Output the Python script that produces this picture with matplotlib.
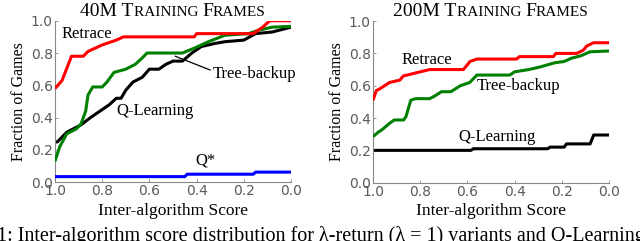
import matplotlib
matplotlib.use("Agg")
import matplotlib.pyplot as plt
from matplotlib.offsetbox import TextArea, HPacker, AnchoredOffsetbox

# ---------------- data ----------------
# Left panel: 40M training frames
l_retrace_x = [1.0, 0.97, 0.93, 0.88, 0.86, 0.83, 0.80, 0.78, 0.74, 0.71, 0.41, 0.40, 0.16, 0.14, 0.12, 0.09, 0.0]
l_retrace_y = [0.58, 0.63, 0.78, 0.78, 0.81, 0.83, 0.85, 0.86, 0.88, 0.90, 0.90, 0.92, 0.92, 0.94, 0.96, 1.00, 1.00]

l_tree_x = [1.0, 0.98, 0.95, 0.91, 0.89, 0.87, 0.86, 0.84, 0.80, 0.78, 0.75, 0.70, 0.66, 0.63, 0.61, 0.46, 0.41, 0.35, 0.28, 0.18, 0.14, 0.08, 0.0]
l_tree_y = [0.13, 0.22, 0.30, 0.33, 0.36, 0.44, 0.54, 0.59, 0.59, 0.62, 0.68, 0.70, 0.73, 0.77, 0.80, 0.80, 0.83, 0.87, 0.91, 0.92, 0.94, 0.96, 0.965]

l_q_x = [1.0, 0.99, 0.95, 0.89, 0.85, 0.81, 0.77, 0.74, 0.72, 0.70, 0.67, 0.63, 0.60, 0.56, 0.53, 0.50, 0.46, 0.42, 0.38, 0.32, 0.28, 0.20, 0.15, 0.08, 0.0]
l_q_y = [0.25, 0.25, 0.31, 0.355, 0.40, 0.44, 0.48, 0.52, 0.52, 0.57, 0.62, 0.65, 0.70, 0.70, 0.73, 0.75, 0.75, 0.80, 0.84, 0.86, 0.87, 0.88, 0.92, 0.93, 0.96]

l_qstar_x = [1.0, 0.45, 0.44, 0.16, 0.15, 0.0]
l_qstar_y = [0.035, 0.035, 0.05, 0.05, 0.063, 0.063]

# Right panel: 200M training frames
r_retrace_x = [1.0, 0.986, 0.972, 0.93, 0.886, 0.872, 0.80, 0.76, 0.617, 0.589, 0.56, 0.391, 0.38, 0.236, 0.225, 0.137, 0.109, 0.095, 0.066, 0.0]
r_retrace_y = [0.51, 0.57, 0.58, 0.62, 0.635, 0.66, 0.686, 0.70, 0.70, 0.75, 0.765, 0.765, 0.78, 0.78, 0.80, 0.80, 0.82, 0.845, 0.866, 0.866]

r_tree_x = [1.0, 0.98, 0.96, 0.93, 0.91, 0.87, 0.86, 0.84, 0.82, 0.76, 0.74, 0.71, 0.67, 0.63, 0.59, 0.56, 0.42, 0.40, 0.34, 0.29, 0.23, 0.19, 0.16, 0.12, 0.08, 0.0]
r_tree_y = [0.285, 0.31, 0.33, 0.367, 0.388, 0.388, 0.41, 0.51, 0.52, 0.52, 0.535, 0.563, 0.563, 0.60, 0.62, 0.666, 0.666, 0.686, 0.70, 0.717, 0.742, 0.75, 0.77, 0.785, 0.81, 0.815]

r_q_x = [1.0, 0.585, 0.575, 0.26, 0.25, 0.19, 0.18, 0.08, 0.065, 0.0]
r_q_y = [0.20, 0.20, 0.21, 0.21, 0.22, 0.22, 0.24, 0.24, 0.295, 0.295]

x_ticks = [1.0, 0.8, 0.6, 0.4, 0.2, 0.0]
y_ticks = [0.0, 0.2, 0.4, 0.6, 0.8, 1.0]

# ---------------- figure ----------------
fig = plt.figure(figsize=(6.4, 2.41), dpi=100)
SERIF = ["Liberation Serif", "DejaVu Serif"]
GRAY = "#5a5a5a"
LW = 2.2
LBL = 12

ax1 = fig.add_axes([0.0859, 0.2436, 0.3688, 0.6705])
ax2 = fig.add_axes([0.5828, 0.2420, 0.3688, 0.6705])


def style(ax, big, rest):
    ax.set_xlim(1.0, 0.0)
    ax.set_ylim(0.0, 1.0)
    ax.set_xticks(x_ticks)
    ax.set_yticks(y_ticks)
    ax.set_xticklabels([f"{t:.1f}" for t in x_ticks])
    ax.set_yticklabels([f"{t:.1f}" for t in y_ticks])
    for s in ["top", "right"]:
        ax.spines[s].set_visible(False)
    for s in ["left", "bottom"]:
        ax.spines[s].set_color("#888888")
        ax.spines[s].set_linewidth(0.8)
    ax.tick_params(direction="in", length=2.5, width=0.6, colors="#888888",
                   labelcolor=GRAY, labelsize=10, pad=1.5)
    ax.set_xlabel("Inter-algorithm Score", family=SERIF, fontsize=12.5, labelpad=3)
    ax.set_ylabel("Fraction of Games", family=SERIF, fontsize=11.5, labelpad=3)
    # small-caps title
    parts = []
    for txt, sz in [(big[0], 14), (rest[0], 11), (big[1], 14), (rest[1], 11)]:
        parts.append(TextArea(txt, textprops=dict(fontsize=sz, family=SERIF)))
    box = HPacker(children=parts, align="baseline", pad=0, sep=0)
    anch = AnchoredOffsetbox(loc="lower center", child=box, pad=0, frameon=False,
                             bbox_to_anchor=(0.5, 1.005), bbox_transform=ax.transAxes,
                             borderpad=0)
    ax.add_artist(anch)


style(ax1, ("40M T", "F"), ("RAINING ", "RAMES"))
style(ax2, ("200M T", "F"), ("RAINING ", "RAMES"))

# left panel lines
ax1.plot(l_retrace_x, l_retrace_y, color="#ff0000", lw=LW, solid_capstyle="butt", zorder=4)
ax1.plot(l_tree_x, l_tree_y, color="#008000", lw=LW, solid_capstyle="butt", zorder=3)
ax1.plot(l_q_x, l_q_y, color="black", lw=LW, solid_capstyle="butt", zorder=2)
ax1.plot(l_qstar_x, l_qstar_y, color="#0000ff", lw=LW, solid_capstyle="butt", zorder=3)

ax1.text(0.864, 0.918, "Retrace", family=SERIF, fontsize=LBL, ha="center", va="center")
ax1.text(0.153, 0.67, "Tree-backup", family=SERIF, fontsize=LBL, ha="center", va="center")
ax1.plot([0.49, 0.343], [0.78, 0.695], color="black", lw=0.9)
ax1.text(0.576, 0.44, "Q-Learning", family=SERIF, fontsize=LBL, ha="center", va="center")
ax1.text(0.364, 0.132, "Q*", family=SERIF, fontsize=LBL, ha="center", va="center")

# right panel lines
ax2.plot(r_retrace_x, r_retrace_y, color="#ff0000", lw=LW, solid_capstyle="butt", zorder=4)
ax2.plot(r_tree_x, r_tree_y, color="#008000", lw=LW, solid_capstyle="butt", zorder=3)
ax2.plot(r_q_x, r_q_y, color="black", lw=LW, solid_capstyle="butt", zorder=2)

ax2.text(0.772, 0.76, "Retrace", family=SERIF, fontsize=LBL, ha="center", va="center")
ax2.text(0.384, 0.598, "Tree-backup", family=SERIF, fontsize=LBL, ha="center", va="center")
ax2.text(0.473, 0.285, "Q-Learning", family=SERIF, fontsize=LBL, ha="center", va="center")

# clipped caption at the bottom
fig.text(-0.004, 0.0, "1: Inter-algorithm score distribution for \u03bb-return (\u03bb = 1) variants and Q-Learning",
         family=SERIF, fontsize=14.5, ha="left", va="baseline")

fig.savefig("out.png", dpi=100)
